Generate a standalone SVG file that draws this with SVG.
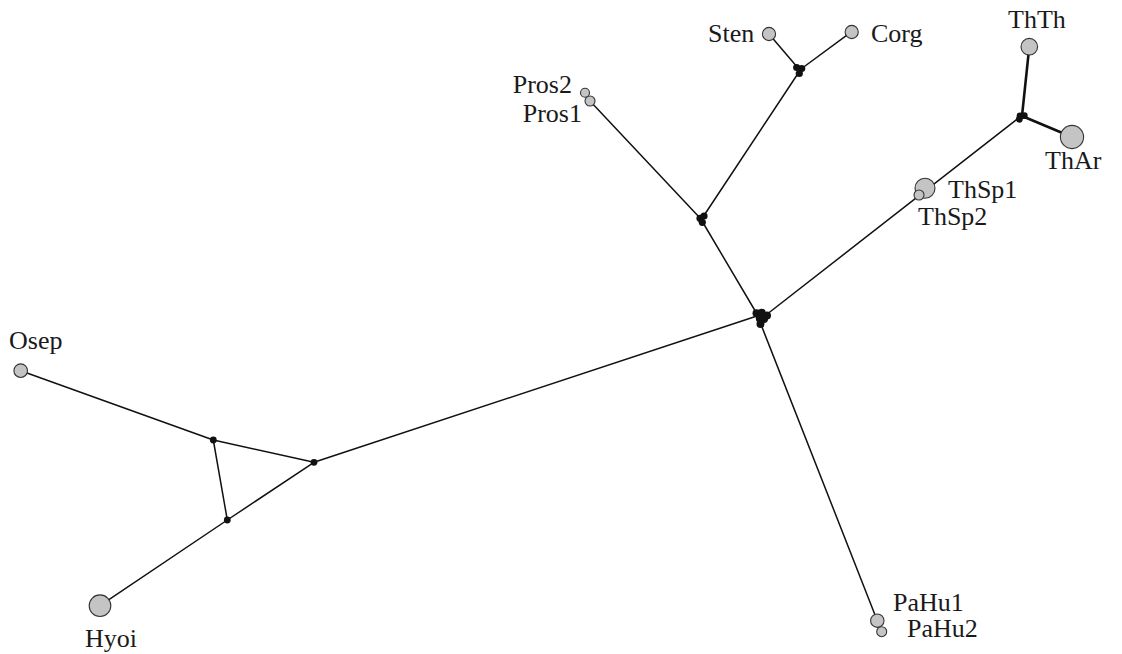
<svg xmlns="http://www.w3.org/2000/svg" width="1122" height="654" viewBox="0 0 1122 654">
  <style>
    .edge { stroke: #111; stroke-width: 1.5; fill: none; stroke-linecap: round; }
    .edge.heavy { stroke-width: 2.6; }
    .taxon { fill: #c4c4c4; stroke: #333; stroke-width: 1.1; }
    .median { fill: #111; stroke: none; }
    .label { font-family: "Liberation Serif", "Times New Roman", serif; font-size: 26px; fill: #1a1a1a; }
  </style>
  <rect width="1122" height="654" fill="#fff"/>

  <!-- connectors -->
  <g id="connectors">
    <line class="edge" x1="20.7" y1="370.7" x2="213.3" y2="440"/>
    <line class="edge" x1="213.3" y1="440" x2="314" y2="462.3"/>
    <line class="edge" x1="213.3" y1="440" x2="227.3" y2="520"/>
    <line class="edge" x1="227.3" y1="520" x2="314" y2="462.3"/>
    <line class="edge" x1="227.3" y1="520" x2="100" y2="605.7"/>
    <line class="edge" x1="314" y1="462.3" x2="757" y2="316"/>
    <line class="edge" x1="757" y1="314" x2="702" y2="221"/>
    <line class="edge" x1="700" y1="218" x2="590" y2="101"/>
    <line class="edge" x1="703" y1="217" x2="799" y2="72"/>
    <line class="edge" x1="798" y1="68" x2="769" y2="34"/>
    <line class="edge" x1="801" y1="69" x2="851.7" y2="31.7"/>
    <line class="edge" x1="766" y1="315" x2="1020" y2="117"/>
    <line class="edge heavy" x1="1022" y1="116" x2="1029.3" y2="46.7"/>
    <line class="edge heavy" x1="1022" y1="116" x2="1072" y2="137"/>
    <line class="edge" x1="760" y1="322" x2="877.3" y2="620.7"/>
  </g>

  <!-- median vectors: triangle -->
  <g id="node-m1"><circle class="median" cx="213.3" cy="440" r="3.4"/></g>
  <g id="node-m2"><circle class="median" cx="314" cy="462.3" r="3.4"/></g>
  <g id="node-m3"><circle class="median" cx="227.3" cy="520" r="3.4"/></g>

  <!-- central median cluster -->
  <g id="node-center">
    <circle class="median" cx="756.5" cy="313.3" r="4"/>
    <circle class="median" cx="761.7" cy="312.8" r="4"/>
    <circle class="median" cx="767" cy="315.5" r="4"/>
    <circle class="median" cx="759.8" cy="318.5" r="4"/>
    <circle class="median" cx="764" cy="319" r="4"/>
    <circle class="median" cx="760.5" cy="324" r="4"/>
  </g>

  <!-- Pros junction -->
  <g id="node-pros-junction">
    <circle class="median" cx="700" cy="218.3" r="3.6"/>
    <circle class="median" cx="704" cy="216" r="3.6"/>
    <circle class="median" cx="702.3" cy="222.3" r="3.6"/>
  </g>

  <!-- Sten/Corg junction -->
  <g id="node-sc-junction">
    <circle class="median" cx="796.7" cy="67.5" r="3.6"/>
    <circle class="median" cx="801.7" cy="68.5" r="3.6"/>
    <circle class="median" cx="799.3" cy="73.5" r="3.6"/>
  </g>

  <!-- Th junction -->
  <g id="node-th-junction">
    <circle class="median" cx="1020" cy="116" r="3.4"/>
    <circle class="median" cx="1024.3" cy="115.7" r="3.4"/>
    <circle class="median" cx="1019.3" cy="119.3" r="3.4"/>
  </g>

  <!-- haplotypes -->
  <g id="node-Osep">
    <circle class="taxon" cx="20.7" cy="370.7" r="6.8"/>
    <text class="label" x="9" y="349">Osep</text>
  </g>
  <g id="node-Hyoi">
    <circle class="taxon" cx="100" cy="605.7" r="10.8"/>
    <text class="label" x="85" y="647">Hyoi</text>
  </g>
  <g id="node-Pros2">
    <circle class="taxon" cx="585" cy="92.7" r="4.5"/>
    <text class="label" x="572" y="93" text-anchor="end">Pros2</text>
  </g>
  <g id="node-Pros1">
    <circle class="taxon" cx="590" cy="101" r="5"/>
    <text class="label" x="582" y="121.5" text-anchor="end">Pros1</text>
  </g>
  <g id="node-Sten">
    <circle class="taxon" cx="769" cy="34" r="6.6"/>
    <text class="label" x="708" y="41.7">Sten</text>
  </g>
  <g id="node-Corg">
    <circle class="taxon" cx="851.7" cy="32" r="6.6"/>
    <text class="label" x="871" y="41.7">Corg</text>
  </g>
  <g id="node-ThTh">
    <circle class="taxon" cx="1029.3" cy="46.7" r="8.3"/>
    <text class="label" x="1008" y="28.3">ThTh</text>
  </g>
  <g id="node-ThAr">
    <circle class="taxon" cx="1072" cy="137" r="11.6"/>
    <text class="label" x="1045" y="169">ThAr</text>
  </g>
  <g id="node-ThSp1">
    <circle class="taxon" cx="925" cy="188.3" r="10"/>
    <text class="label" x="948" y="198.3">ThSp1</text>
  </g>
  <g id="node-ThSp2">
    <circle class="taxon" cx="919" cy="195" r="5"/>
    <text class="label" x="918" y="225">ThSp2</text>
  </g>
  <g id="node-PaHu1">
    <circle class="taxon" cx="877.3" cy="620.7" r="6.7"/>
    <text class="label" x="893" y="610.7">PaHu1</text>
  </g>
  <g id="node-PaHu2">
    <circle class="taxon" cx="881.7" cy="631.7" r="5"/>
    <text class="label" x="907" y="636.7">PaHu2</text>
  </g>
</svg>
